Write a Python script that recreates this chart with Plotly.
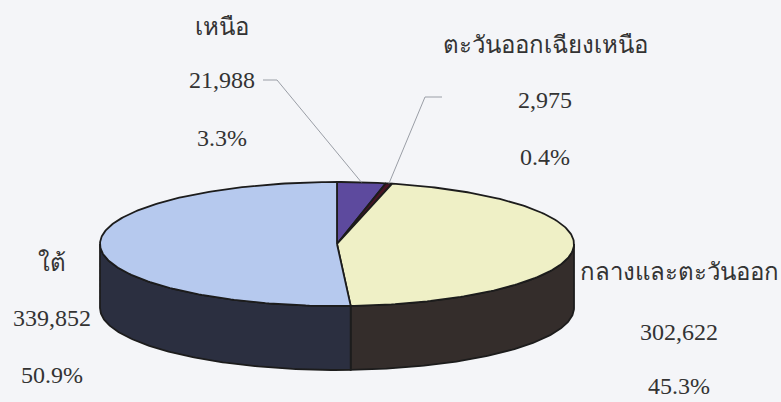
import numpy as np
import plotly.graph_objects as go

# ---- data ----
regions = ["เหนือ", "ตะวันออกเฉียงเหนือ", "กลางและตะวันออก", "ใต้"]
values = [21988, 2975, 302622, 339852]
top_colors = ["#5d4a9e", "#4a1424", "#eff0c6", "#b6c9ee"]
side_colors = ["#3a2e66", "#2e0c16", "#342d2b", "#2b2f40"]

# ---- geometry (layout) ----
W, H = 781, 402
cx, cy, a, b, depth = 337, 244, 237, 62, 64
label_pos = [(222, 27), (545, 45), (679, 272), (52, 262)]
spacing = [[0, 53, 111], [0, 55, 112], [0, 60, 114], [0, 56, 113]]
leader_start = {0: (263, 80, 277), 1: (442, 97, 425)}

total = sum(values)
fracs = [v / total for v in values]
starts = np.cumsum([0] + fracs[:-1]) * 2 * np.pi
ends = np.cumsum(fracs) * 2 * np.pi


def pt(t, dy=0.0):
    return cx + a * np.sin(t), cy - b * np.cos(t) + dy


fig = go.Figure()
line = dict(color="#1c1c1c", width=1.8)

# side walls (front part only)
for i in range(len(values)):
    s = max(starts[i], np.pi / 2)
    e = min(ends[i], 3 * np.pi / 2)
    if e <= s:
        continue
    t = np.linspace(s, e, 120)
    xt, yt = pt(t)
    xb, yb = pt(t[::-1], depth)
    xs = np.concatenate([xt, xb, xt[:1]])
    ys = np.concatenate([yt, yb, yt[:1]])
    fig.add_trace(go.Scatter(x=xs, y=ys, mode="lines", fill="toself",
                             fillcolor=side_colors[i], line=line,
                             hoverinfo="skip", showlegend=False))

# top faces
for i in range(len(values)):
    t = np.linspace(starts[i], ends[i], max(8, int(400 * fracs[i])))
    xt, yt = pt(t)
    xs = np.concatenate([[cx], xt, [cx]])
    ys = np.concatenate([[cy], yt, [cy]])
    fig.add_trace(go.Scatter(x=xs, y=ys, mode="lines", fill="toself",
                             fillcolor=top_colors[i], line=line,
                             hoverinfo="skip", showlegend=False))

# leader lines for small slices
for i, (x0, y0, x1) in leader_start.items():
    mid = (starts[i] + ends[i]) / 2
    xm, ym = pt(mid)
    fig.add_trace(go.Scatter(x=[x0, x1, xm], y=[y0, y0, ym], mode="lines",
                             line=dict(color="#9a9ea6", width=1),
                             hoverinfo="skip", showlegend=False))

font = dict(family="Liberation Serif", size=24, color="#333333")
for i, r in enumerate(regions):
    x, y = label_pos[i]
    pct = f"{100 * fracs[i]:.1f}%"
    texts = [r, f"{values[i]:,}", pct]
    for k, tx in enumerate(texts):
        fig.add_annotation(x=x, y=y + spacing[i][k], text=tx, showarrow=False,
                           xref="x", yref="y", xanchor="center", yanchor="middle",
                           font=font)

fig.update_layout(
    width=W, height=H, margin=dict(l=0, r=0, t=0, b=0),
    paper_bgcolor="#f4f5f8", plot_bgcolor="#f4f5f8",
    xaxis=dict(range=[0, W], visible=False, fixedrange=True),
    yaxis=dict(range=[H, 0], visible=False, fixedrange=True),
)
fig.write_html("out.html", config={"displayModeBar": False},
               post_script="document.body.style.margin='0';")
